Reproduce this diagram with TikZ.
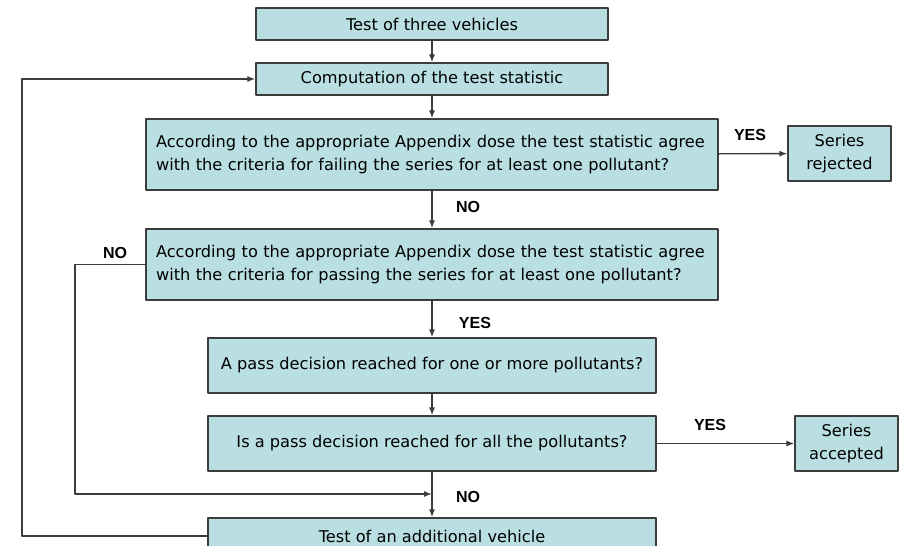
\documentclass[tikz,border=0pt]{standalone}
\usepackage{fontspec}
\setmainfont{DejaVu Sans}
\newfontfamily\answerfont{Liberation Sans}
\usetikzlibrary{arrows.meta}
\definecolor{boxfill}{RGB}{185,223,226}
\definecolor{boxline}{RGB}{60,60,60}
\begin{document}
\begin{tikzpicture}[x=1pt, y=-1pt, font=\fontsize{16.2}{23.5}\selectfont, line join=round,
	>={Latex[length=8pt,width=6pt]},
	box/.style={draw=boxline, fill=boxfill, line width=1.2pt, inner sep=0pt, align=center},
	wide/.style={box, minimum width=572pt, minimum height=71pt, text width=552pt, align=left},
	flow/.style={draw=boxline, line width=1.4pt},
	answer/.style={font=\answerfont\fontsize{16}{18}\selectfont\bfseries}]
	\clip (0,0) rectangle (902,546);
	% boxes
	\node[box, minimum width=352pt, minimum height=32pt] (test3) at(432,24){Test of three vehicles};
	\node[box, minimum width=352pt, minimum height=32pt] (compute) at(432,79){Computation of the test statistic};
	\node[wide] (failchk) at(432,154.5){According to the appropriate Appendix dose the test statistic agree\\with the criteria for failing the series for at least one pollutant?};
	\node[box, minimum width=103pt, minimum height=55pt] (rejected) at(839.5,153.5){Series\\rejected};
	\node[wide] (passchk) at(432,264.5){According to the appropriate Appendix dose the test statistic agree\\with the criteria for passing the series for at least one pollutant?};
	\node[box, minimum width=448pt, minimum height=55pt] (partial) at(432,365.5){A pass decision reached for one or more pollutants?};
	\node[box, minimum width=448pt, minimum height=55pt] (allchk) at(432,443.5){Is a pass decision reached for all the pollutants?};
	\node[box, minimum width=103pt, minimum height=55pt] (accepted) at(846.5,443.5){Series\\accepted};
	\node[box, minimum width=448pt, minimum height=36pt] (extra) at(432,536){Test of an additional vehicle};
	\coordinate (merge) at(432,494);
	% connectors
	\draw[flow,->] (test3)--(compute);
	\draw[flow,->] (compute)--(failchk);
	\draw[flow,->] (failchk)--(rejected);
	\draw[flow,->] (failchk)--(passchk);
	\draw[flow,->] (passchk)--(partial);
	\draw[flow,->] (partial)--(allchk);
	\draw[flow,->] (allchk)--(accepted);
	\draw[flow,->] (allchk)--(extra);
	\draw[flow,->] (passchk.west)--(75,264.5)|-(merge);
	\draw[flow,->] (extra.west)--(22,536)|-(compute.west);
	% labels
	\node[answer] (yes1) at(750,135){YES};
	\node[answer] (no1) at(468,207){NO};
	\node[answer] (no2) at(115,253){NO};
	\node[answer] (yes2) at(475,323){YES};
	\node[answer] (yes3) at(710,425){YES};
	\node[answer] (no3) at(468,497){NO};
\end{tikzpicture}
\end{document}
